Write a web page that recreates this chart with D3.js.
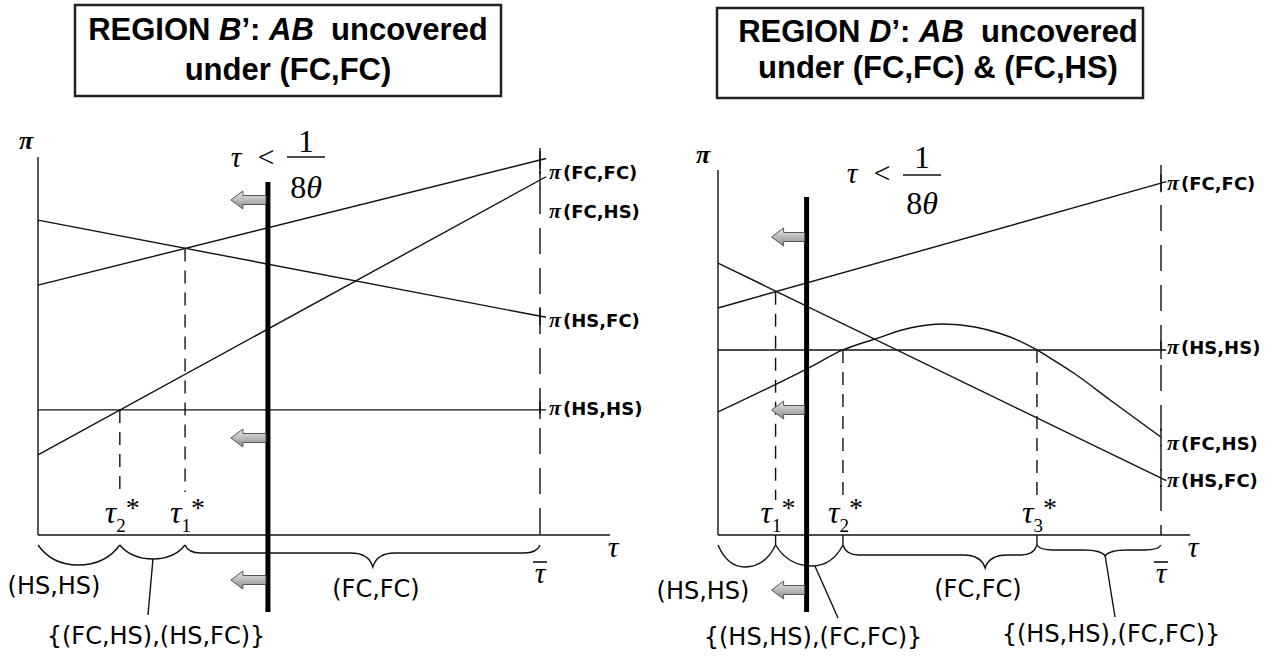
<!DOCTYPE html>
<html lang="en">
<head>
<meta charset="UTF-8">
<title>Regions B' and D'</title>
<script src="https://d3js.org/d3.v7.min.js"></script>
<style>
  body { margin: 0; background: #fff; }
  svg { display: block; background: #fff; }
  .thin { fill: none; stroke: #111; stroke-width: 1.4px; }
  .serif { font-family: "Liberation Serif", "DejaVu Serif", serif; }
  .sans { font-family: "DejaVu Sans", sans-serif; }
  .title { font-family: "Liberation Sans", Arial, sans-serif; font-weight: bold; font-size: 31px; }
</style>
</head>
<body>
<div id="chart"></div>
<script>
// values: tau is scaled so that tau-bar = 1, pi runs 0..10

// Region B'
const bNames = ["FC,FC", "HS,FC", "FC,HS", "HS,HS"];
const bAtZero = [6.61, 8.33, 2.12, 3.31];
const bAtBar = [9.92, 5.79, 9.39, 3.31];
const bCuts = [0.163, 0.293];
const bCutIdx = ["2", "1"];
const bCutOn = ["HS,HS", "FC,FC"];
const bLimit = 0.458;            // tau = 1/(8 theta)
const bRegions = ["(HS,HS)", "{(FC,HS),(HS,FC)}", "(FC,FC)"];
const bBraceFrom = [0, 0.163, 0.293];
const bBraceTo = [0.163, 0.293, 1];
const bBraceTip = [0.08, 0.229, 0.667];

// Region D'
const dNames = ["FC,FC", "HS,FC", "HS,HS"];
const dAtZero = [6.22, 7.45, 5.07];
const dAtBar = [9.64, 1.56, 5.07];
const dCurveName = "FC,HS";
const dCurveTau = [0, 0.205, 0.282, 0.354, 0.433, 0.508, 0.58, 0.637, 0.68, 0.72, 0.76, 0.806, 0.885, 1];
const dCurvePi = [3.37, 4.58, 5.07, 5.37, 5.67, 5.78, 5.70, 5.52, 5.32, 5.07, 4.77, 4.41, 3.70, 2.68];
const dCuts = [0.13, 0.282, 0.72];
const dCutIdx = ["1", "2", "3"];
const dCutOn = ["FC,FC", "HS,HS", "HS,HS"];
const dLimit = 0.2;
const dRegions = ["(HS,HS)", "{(HS,HS),(FC,FC)}", "(FC,FC)", "{(HS,HS),(FC,FC)}"];
const dBraceFrom = [0, 0.13, 0.282, 0.72];
const dBraceTo = [0.13, 0.282, 0.72, 1];
const dBraceTip = [0.061, 0.212, 0.603, 0.874];

const W = 1283, H = 660;
const svg = d3.select("#chart").append("svg").attr("width", W).attr("height", H);

const grad = svg.append("defs").append("linearGradient")
    .attr("id", "arrowFill").attr("x1", 0).attr("y1", 0).attr("x2", 0).attr("y2", 1);
grad.append("stop").attr("offset", "0%").attr("stop-color", "#e8e8e8");
grad.append("stop").attr("offset", "100%").attr("stop-color", "#8c8c8c");

function titleBox(o) {
    svg.append("rect")
        .attr("x", o.x).attr("y", o.y).attr("width", o.w).attr("height", o.h)
        .attr("fill", "none").attr("stroke", "#222").attr("stroke-width", 2.5);
    const t = svg.append("text").attr("class", "title")
        .attr("x", o.cx).attr("y", o.b1).attr("text-anchor", "middle");
    t.append("tspan").text("REGION ");
    t.append("tspan").attr("font-style", "italic").text(o.letter);
    t.append("tspan").text("\u2019: ");
    t.append("tspan").attr("font-style", "italic").text("AB");
    t.append("tspan").text("\u00a0 uncovered");
    svg.append("text").attr("class", "title")
        .attr("x", o.cx).attr("y", o.b2).attr("text-anchor", "middle")
        .text(o.line2);
}

function bracePath(xa, xb, xm, y0, yFlat, yTip) {
    if (xb - xa < 90) {
        return `M${xa},${y0} Q${xa + 0.35 * (xm - xa)},${yTip} ${xm},${yTip} ` +
               `Q${xb - 0.35 * (xb - xm)},${yTip} ${xb},${y0}`;
    }
    const r = 16, s = 22;
    return `M${xa},${y0} Q${xa + 3},${yFlat} ${xa + r},${yFlat} L${xm - s},${yFlat} ` +
           `Q${xm - 4},${yFlat} ${xm},${yTip} Q${xm + 4},${yFlat} ${xm + s},${yFlat} ` +
           `L${xb - r},${yFlat} Q${xb - 3},${yFlat} ${xb},${y0}`;
}

function piLabel(g, x, y, name) {
    const t = g.append("text").attr("x", x).attr("y", y);
    t.append("tspan").attr("class", "serif").attr("font-style", "italic")
        .attr("font-weight", "bold").attr("font-size", 22).text("\u03c0");
    t.append("tspan").attr("class", "sans").attr("font-weight", "bold")
        .attr("font-size", 18).attr("dx", 2).text("(" + name + ")");
}

function tauLabel(g, x, y, size) {
    g.append("text").attr("class", "serif").attr("font-style", "italic")
        .attr("font-size", size).attr("x", x).attr("y", y).attr("text-anchor", "middle")
        .text("\u03c4");
}

function panel(p) {
    const x = d3.scaleLinear().domain([0, 1]).range([p.left, p.right]);
    const y = d3.scaleLinear().domain([0, 10]).range([p.base, p.top]);
    const g = svg.append("g");
    const line = d3.line().x(d => x(d[0])).y(d => y(d[1]));

    const valueAt = (name, t) => {
        const i = p.names.indexOf(name);
        return p.atZero[i] + (p.atBar[i] - p.atZero[i]) * t;
    };

    // axes
    g.append("line").attr("class", "thin")
        .attr("x1", x(0)).attr("x2", x(0)).attr("y1", p.top).attr("y2", p.base);
    g.append("line").attr("class", "thin")
        .attr("x1", x(0)).attr("x2", p.axisEnd).attr("y1", p.base).attr("y2", p.base);

    // tau-bar
    g.append("line").attr("class", "thin").attr("stroke-dasharray", "26,14")
        .attr("x1", x(1)).attr("x2", x(1)).attr("y1", p.barTop).attr("y2", p.base);

    // straight payoff lines
    p.names.forEach((name, i) => {
        const a = p.atZero[i], b = p.atBar[i];
        g.append("path").attr("class", "thin")
            .attr("d", line([[0, a], [1.012, a + (b - a) * 1.012]]));
        g.append("line").attr("class", "thin")
            .attr("x1", x(1)).attr("x2", x(1)).attr("y1", y(b) - 9).attr("y2", y(b) + 9);
        piLabel(g, x(1) + p.labelDx, y(b) + p.labelDy[name] + 7, name);
    });

    // curved payoff
    if (p.curveTau) {
        const pts = p.curveTau.map((t, i) => [t, p.curvePi[i]]);
        g.append("path").attr("class", "thin")
            .attr("d", d3.line().x(d => x(d[0])).y(d => y(d[1])).curve(d3.curveMonotoneX)(pts));
        const last = p.curvePi[p.curvePi.length - 1];
        g.append("line").attr("class", "thin")
            .attr("x1", x(1)).attr("x2", x(1)).attr("y1", y(last) - 9).attr("y2", y(last) + 9);
        piLabel(g, x(1) + p.labelDx, y(last) + p.labelDy[p.curveName] + 7, p.curveName);
    }

    // critical taus
    p.cuts.forEach((t, i) => {
        const xc = x(t);
        g.append("line").attr("class", "thin").attr("stroke-dasharray", "13,9")
            .attr("x1", xc).attr("x2", xc)
            .attr("y1", y(valueAt(p.cutOn[i], t))).attr("y2", p.cutBottom);
        const lab = g.append("text").attr("class", "serif")
            .attr("x", xc - 15).attr("y", 523);
        lab.append("tspan").attr("font-style", "italic").attr("font-size", 32).text("\u03c4");
        lab.append("tspan").attr("font-size", 19).attr("dy", 9).text(p.cutIdx[i]);
        lab.append("tspan").attr("font-size", 28).attr("dy", -15).text("*");
        if (p.cutTicks) {
            g.append("line").attr("class", "thin")
                .attr("x1", xc).attr("x2", xc).attr("y1", p.base).attr("y2", p.braceTop);
        }
    });

    // braces and regions
    p.braceFrom.forEach((t0, i) => {
        const xa = x(t0), xb = x(p.braceTo[i]), xm = x(p.braceTip[i]);
        g.append("path").attr("class", "thin")
            .attr("d", bracePath(xa, xb, xm, p.braceTop, p.braceFlat[i], p.braceDip[i]));
        const lab = p.regionPos[i];
        if (lab.stem) {
            g.append("line").attr("class", "thin")
                .attr("x1", xm + lab.stem[0]).attr("y1", p.braceDip[i])
                .attr("x2", lab.stem[1]).attr("y2", lab.stem[2]);
        }
        g.append("text").attr("class", "sans").attr("font-size", 24)
            .attr("x", lab.x).attr("y", lab.y).attr("text-anchor", "middle")
            .text(p.regions[i]);
    });

    // 1/(8 theta) bound
    const xl = x(p.limit);
    g.append("line").attr("stroke", "#000").attr("stroke-width", 5)
        .attr("x1", xl).attr("x2", xl).attr("y1", p.limTop).attr("y2", 612);
    p.arrows.forEach(ay => {
        const tx = xl - p.arrowLen;
        g.append("path")
            .attr("d", `M${tx},${ay} L${tx + 12},${ay - 9} L${tx + 12},${ay - 4.5} ` +
                       `L${xl - 2},${ay - 4.5} L${xl - 2},${ay + 4.5} L${tx + 12},${ay + 4.5} ` +
                       `L${tx + 12},${ay + 9} Z`)
            .attr("fill", "url(#arrowFill)").attr("stroke", "#555").attr("stroke-width", 1);
    });
    const f = p.frac;
    tauLabel(g, f.x, f.y, 30);
    g.append("text").attr("class", "serif").attr("font-size", 30)
        .attr("x", f.x + 30).attr("y", f.y).attr("text-anchor", "middle").text("<");
    g.append("text").attr("class", "serif").attr("font-size", 32)
        .attr("x", f.x + 70).attr("y", f.y - 15 + f.numDy).attr("text-anchor", "middle").text("1");
    g.append("line").attr("stroke", "#111").attr("stroke-width", 1.5)
        .attr("x1", f.x + 51).attr("x2", f.x + 89).attr("y1", f.bar).attr("y2", f.bar);
    const den = g.append("text").attr("class", "serif").attr("font-size", 32)
        .attr("x", f.x + 70).attr("y", f.den).attr("text-anchor", "middle");
    den.append("tspan").text("8");
    den.append("tspan").attr("font-style", "italic").text("\u03b8");

    // axis labels
    g.append("text").attr("class", "serif").attr("font-style", "italic").attr("font-weight", "bold")
        .attr("font-size", 26).attr("x", p.piPos[0]).attr("y", p.piPos[1])
        .attr("text-anchor", "middle").text("\u03c0");
    tauLabel(g, p.axisEnd + 3, p.base + 22, 30);
    tauLabel(g, x(1), p.base + 48, 30);
    g.append("line").attr("stroke", "#111").attr("stroke-width", 1.6)
        .attr("x1", x(1) - 7).attr("x2", x(1) + 7).attr("y1", p.base + 27).attr("y2", p.base + 27);
}

titleBox({ x: 75, y: 5, w: 426, h: 91, cx: 288, b1: 40, b2: 80,
           letter: "B", line2: "under (FC,FC)" });
titleBox({ x: 717, y: 8, w: 426, h: 90, cx: 938, b1: 42, b2: 78,
           letter: "D", line2: "under (FC,FC) & (FC,HS)" });

panel({
    left: 38, right: 540, base: 535, top: 157, axisEnd: 610, barTop: 148,
    names: bNames, atZero: bAtZero, atBar: bAtBar,
    labelDx: 9, labelDy: { "FC,FC": 12, "FC,HS": 31, "HS,FC": 4, "HS,HS": -2 },
    cuts: bCuts, cutIdx: bCutIdx, cutOn: bCutOn, cutBottom: 492, cutTicks: false,
    braceFrom: bBraceFrom, braceTo: bBraceTo, braceTip: bBraceTip,
    braceTop: 545, braceFlat: [0, 0, 553], braceDip: [565, 559, 567],
    regions: bRegions,
    regionPos: [
        { x: 54, y: 594 },
        { x: 156, y: 644, stem: [0, 148, 615] },
        { x: 376, y: 597 }
    ],
    limit: bLimit, limTop: 182, arrows: [200, 438, 580], arrowLen: 37,
    frac: { x: 236, y: 167, numDy: 0, bar: 157, den: 198 },
    piPos: [26, 149]
});

panel({
    left: 718, right: 1161, base: 535, top: 170, axisEnd: 1190, barTop: 165,
    names: dNames, atZero: dAtZero, atBar: dAtBar,
    curveTau: dCurveTau, curvePi: dCurvePi, curveName: dCurveName,
    labelDx: 6, labelDy: { "FC,FC": 0, "HS,HS": -3, "FC,HS": 6, "HS,FC": 2 },
    cuts: dCuts, cutIdx: dCutIdx, cutOn: dCutOn, cutBottom: 500, cutTicks: true,
    braceFrom: dBraceFrom, braceTo: dBraceTo, braceTip: dBraceTip,
    braceTop: 545, braceFlat: [0, 0, 555, 550], braceDip: [567, 566, 568, 556],
    regions: dRegions,
    regionPos: [
        { x: 703, y: 599 },
        { x: 813, y: 645, stem: [3, 838, 618] },
        { x: 978, y: 597 },
        { x: 1111, y: 642, stem: [0, 1115, 617] }
    ],
    limit: dLimit, limTop: 197, arrows: [237, 410, 590], arrowLen: 35,
    frac: { x: 852, y: 183, numDy: 0, bar: 175, den: 214 },
    piPos: [703, 163]
});
</script>
</body>
</html>
